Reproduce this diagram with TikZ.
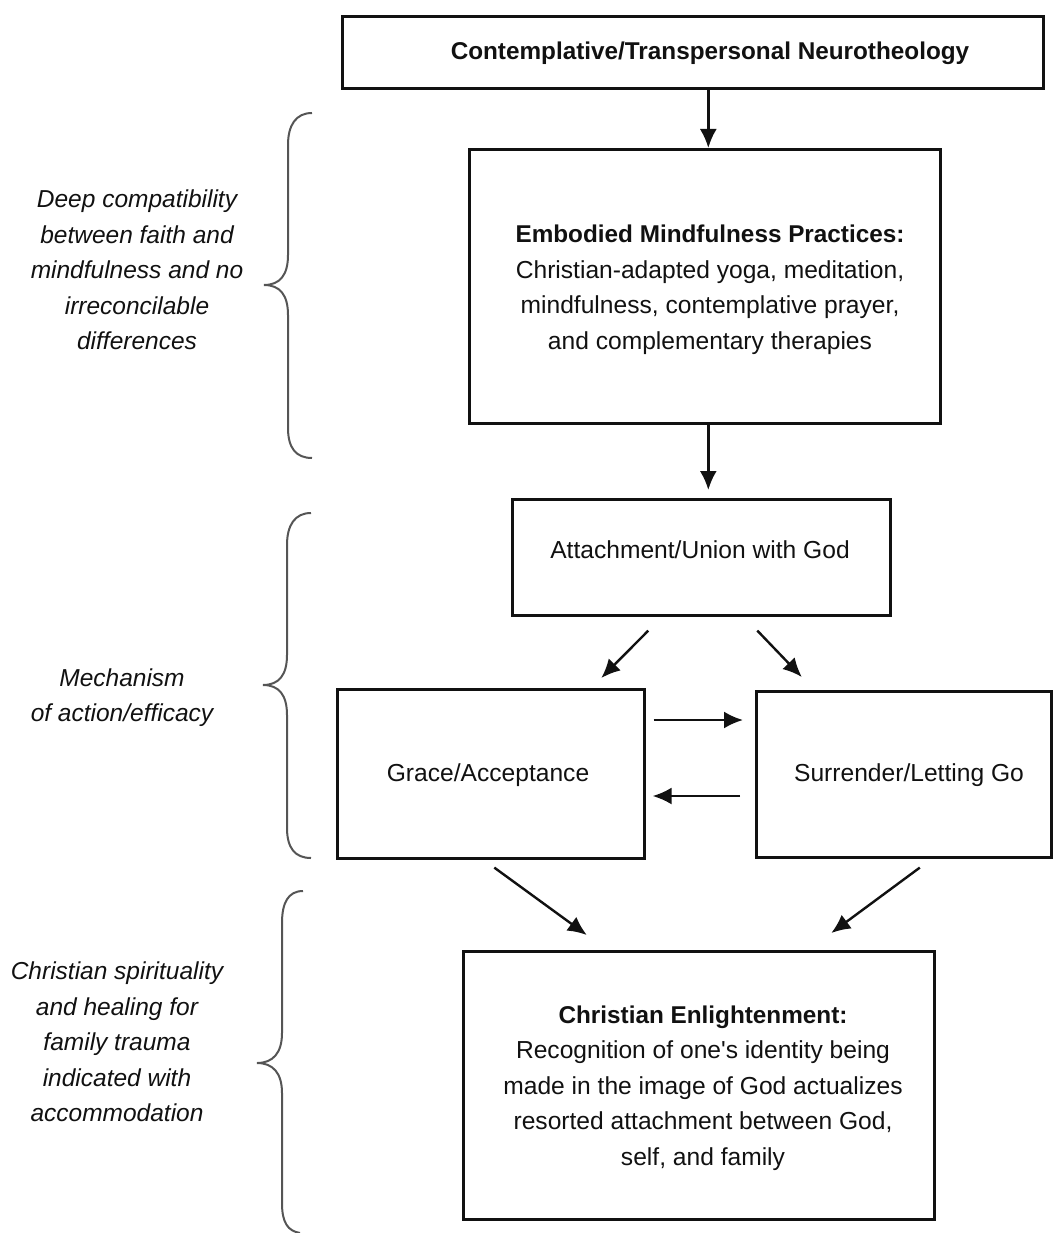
\documentclass[tikz,border=0pt]{standalone}
\usepackage{fontspec}
\setmainfont{Liberation Sans}
\usetikzlibrary{calc,arrows.meta}
\definecolor{ink}{HTML}{111111}
\definecolor{bracegray}{HTML}{555555}
\begin{document}
\begin{tikzpicture}[x=1pt,y=-1pt,
  box/.style={draw=ink,line width=2.6pt,anchor=north west,inner sep=0pt},
  txt/.style={align=center,text=ink,inner sep=0pt,font=\fontsize{24.6}{35.5}\selectfont},
  arr/.style={draw=ink,line width=2.4pt,-{Latex[length=19pt,width=17pt]}},
  side/.style={align=center,text=ink,font=\fontsize{24.5}{35.5}\selectfont\itshape},
  brace/.style={draw=bracegray,line width=2pt}]
\useasboundingbox (0,0) rectangle (1052,1233);
% boxes
\node[box,minimum width=701pt,minimum height=72pt] (top) at (341,15) {};
\node[box,minimum width=471pt,minimum height=274pt] (emb) at (468,148) {};
\node[box,minimum width=378pt,minimum height=116pt] (att) at (511,498) {};
\node[box,minimum width=307pt,minimum height=169pt] (grace) at (336,688) {};
\node[box,minimum width=295pt,minimum height=166pt] (surr) at (755,690) {};
\node[box,minimum width=471pt,minimum height=268pt] (enl) at (462,950) {};
% box texts
\node[txt,font=\fontsize{24.3}{29}\selectfont\bfseries] (toptext) at (710,53) {Contemplative/Transpersonal Neurotheology};
\node[txt] (embtext) at (710,289.5)
  {\textbf{\fontsize{24.3}{35.5}\selectfont Embodied Mindfulness Practices:}\\Christian-adapted yoga, meditation,\\mindfulness, contemplative prayer,\\and complementary therapies};
\node[txt] (atttext) at (700,550) {Attachment/Union with God};
\node[txt] (gracetext) at (488,775.5) {Grace/Acceptance};
\node[txt] (surrtext) at (909,775) {Surrender/Letting Go};
\node[txt] (enltext) at (703,1088)
  {\textbf{\fontsize{24.3}{35.5}\selectfont Christian Enlightenment:}\\Recognition of one\textquotesingle s identity being\\made in the image of God actualizes\\resorted attachment between God,\\self, and family};
% connectors
\draw[arr] ($(top.south)+(15.5,0)$) -- ($(emb.north)+(3.5,0)$);
\draw[arr] ($(emb.south)+(3.5,0)$) -- ($(att.north)+(7,-8)$);
\draw[arr] ($(att.south)+(-53,14)$) -- ($(grace.north)+(110.5,-10)$);
\draw[arr] ($(att.south)+(56,14)$) -- ($(surr.north)+(-102,-13)$);
\draw[arr] ($(grace.north east)+(8,32)$) -- ($(surr.north west)+(-12,30)$);
\draw[arr] ($(surr.north west)+(-15,106)$) -- ($(grace.north east)+(7,108)$);
\draw[arr] ($(grace.south)+(3.5,8)$) -- ($(enl.north)+(-112,-15)$);
\draw[arr] ($(surr.south)+(16,9)$) -- ($(enl.north)+(132.5,-17)$);
% braces
\draw[brace] (312,113) .. controls (296,113) and (288,125) .. (288,145) -- (288,255)
  .. controls (288,275) and (280,285) .. (264,285)
  .. controls (280,285) and (288,295) .. (288,315) -- (288,428)
  .. controls (288,448) and (296,458) .. (312,458);
\draw[brace] (311,513) .. controls (295,513) and (287,525) .. (287,545) -- (287,655)
  .. controls (287,675) and (279,685) .. (263,685)
  .. controls (279,685) and (287,695) .. (287,715) -- (287,828)
  .. controls (287,848) and (295,858) .. (311,858);
\draw[brace] (303,891) .. controls (288,891) and (282,903) .. (282,923) -- (282,1033)
  .. controls (282,1053) and (273,1063) .. (257,1063)
  .. controls (273,1063) and (282,1073) .. (282,1093) -- (282,1203)
  .. controls (282,1223) and (288,1231) .. (300,1233);
% side labels
\node[side] (s1) at (137,270) {Deep compatibility\\between faith and\\mindfulness and no\\irreconcilable\\differences};
\node[side] (s2) at (122,697.5) {Mechanism\\of action/efficacy};
\node[side] (s3) at (117,1042) {Christian spirituality\\and healing for\\family trauma\\indicated with\\accommodation};
\end{tikzpicture}
\end{document}
